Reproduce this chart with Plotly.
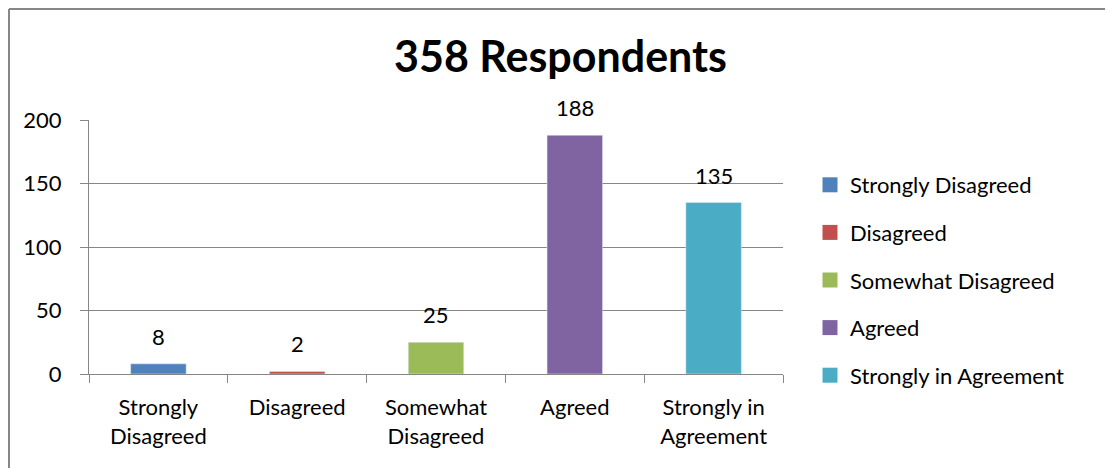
import plotly.graph_objects as go

categories = ["Strongly Disagreed", "Disagreed", "Somewhat Disagreed", "Agreed", "Strongly in Agreement"]
tick_labels = ["Strongly<br>Disagreed", "Disagreed", "Somewhat<br>Disagreed", "Agreed", "Strongly in<br>Agreement"]
values = [8, 2, 25, 188, 135]
colors = ["#4F81BD", "#C0504D", "#9BBB59", "#8064A2", "#4BACC6"]
title = "358 Respondents"
y_ticks = [0, 50, 100, 150, 200]

W, H = 1113, 468
OFF = 8  # page body margin offset
# target page pixel positions of the plot area
PL, PR, PT, PB = 89, 783, 120, 374
L = PL - OFF
T = PT - OFF
R = W - (PR - OFF)
B = H - (PB - OFF)
pw, ph = W - L - R, H - T - B

def px_x(p):  # page px -> paper x
    return (p - OFF - L) / pw

def px_y(p):  # page px -> paper y
    return (H - B - (p - OFF)) / ph

FONT = "Lato"
GRAY = "#868686"

fig = go.Figure()
for i, (c, v, col) in enumerate(zip(categories, values, colors)):
    fig.add_trace(go.Bar(
        x=[c], y=[v], name=c, marker_color=col, width=0.4, showlegend=False,
    ))
    fig.add_annotation(x=c, y=v, text=str(v), showarrow=False, yanchor="bottom",
                       yshift=12, font=dict(family=FONT, size=22, color="black"))
    # legend proxy (square swatch)
    fig.add_trace(go.Scatter(
        x=[None], y=[None], mode="markers", name=c,
        marker=dict(symbol="square", size=15, color=col),
        legendgroup=f"g{i}", showlegend=True,
    ))

fig.update_layout(
    width=W, height=H,
    margin=dict(l=L, r=R, t=T, b=B, autoexpand=False),
    paper_bgcolor="white", plot_bgcolor="white",
    barmode="overlay",
    font=dict(family=FONT, size=22, color="black"),
    title=dict(text=f"<b>{title}</b>", x=(560.5 - OFF) / W, xanchor="center", xref="container",
               y=1 - (57 - OFF) / H, yanchor="middle", yref="container",
               font=dict(family=FONT, size=43, color="black")),
    legend=dict(x=px_x(810), xanchor="left", y=px_y(164), yanchor="top",
                tracegroupgap=16, font=dict(family=FONT, size=22, color="black"),
                bgcolor="rgba(0,0,0,0)"),
    showlegend=True,
)

fig.update_xaxes(
    categoryorder="array", categoryarray=categories,
    tickvals=categories, ticktext=tick_labels,
    showline=True, linecolor=GRAY, linewidth=1,
    ticks="outside", tickson="boundaries", ticklen=8, tickcolor=GRAY, tickwidth=1,
    ticklabelstandoff=14, showgrid=False,
    tickfont=dict(family=FONT, size=22, color="black"),
)
fig.update_yaxes(
    range=[0, 200], tickvals=y_ticks,
    showgrid=True, gridcolor=GRAY, gridwidth=1,
    showline=True, linecolor=GRAY, linewidth=1,
    ticks="outside", ticklen=8, tickcolor=GRAY, tickwidth=1,
    ticklabelstandoff=14, zeroline=False,
    tickfont=dict(family=FONT, size=22, color="black"),
)

# chart area border (top and left edges visible), kept just inside the figure
BX, BY = OFF + 1, OFF + 1
fig.add_shape(type="line", xref="paper", yref="paper",
              x0=px_x(BX), x1=px_x(1300), y0=px_y(BY), y1=px_y(BY),
              line=dict(color=GRAY, width=2))
fig.add_shape(type="line", xref="paper", yref="paper",
              x0=px_x(BX), x1=px_x(BX), y0=px_y(BY), y1=px_y(700),
              line=dict(color=GRAY, width=2))

fig.write_html("out.html")
